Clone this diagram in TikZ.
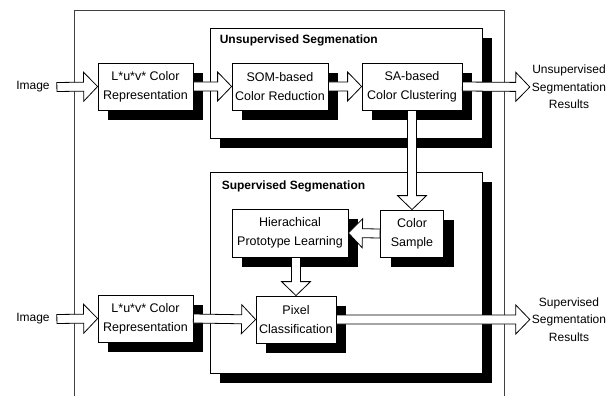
\documentclass[tikz,border=0pt]{standalone}
\usepackage{fontspec}
\setmainfont{Liberation Sans}
\usetikzlibrary{calc,shadows}
\newcommand\blockarrow[2]{%
  \coordinate (ba-h) at ($(#2)!14pt!(#1)$);
  \draw[line width=.8pt,fill=white] ($(#1)!4.5pt!90:(#2)$) -- ($(ba-h)!4.5pt!90:(#2)$)
    -- ($(ba-h)!14.5pt!90:(#2)$) -- (#2) -- ($(ba-h)!14.5pt!-90:(#2)$)
    -- ($(ba-h)!4.5pt!-90:(#2)$) -- ($(#1)!4.5pt!-90:(#2)$) -- cycle;}

\begin{document}
\begin{tikzpicture}[x=1pt,y=-1pt,
  shade/.style={drop shadow={shadow xshift=10pt,shadow yshift=-10pt,fill=black,opacity=1}},
  blk/.style={draw,fill=white,line width=.8pt,shade,inner sep=0pt,minimum height=47pt,
    align=center,font=\fontsize{12.5}{19}\selectfont},
  cont/.style={draw,fill=white,line width=.8pt,shade,inner sep=0pt},
  ttl/.style={font=\fontsize{12}{14}\selectfont\bfseries,inner sep=0pt},
  lbl/.style={align=center,inner sep=2pt,font=\fontsize{12}{17.5}\selectfont}]
\useasboundingbox (0,0) rectangle (616,396);
\draw[line width=.6pt,black!75] (74,396) -- (74,10) -- (504,10) -- (504,396);
\node[cont,minimum width=272pt,minimum height=110pt] (unsup) at (346,83) {};
\node[cont,minimum width=272pt,minimum height=201pt] (sup) at (346,272.5) {};
\node[ttl,anchor=west] at ([xshift=10pt,yshift=-13pt]unsup.north west) {Unsupervised Segmenation};
\node[ttl,anchor=west] at ([xshift=12pt,yshift=-15pt]sup.north west) {Supervised Segmenation};
\node[blk,minimum width=95pt] (luv1) at (145.5,86.5) {L*u*v* Color\\Representation};
\node[blk,minimum width=96pt] (som) at (280,86.5) {SOM-based\\Color Reduction};
\node[blk,minimum width=100pt] (sa) at (412,86.5) {SA-based\\Color Clustering};
\node[blk,minimum width=116pt,minimum height=48pt] (hier) at (290,233) {Hierachical\\Prototype Learning};
\node[blk,minimum width=63pt] (cs) at (412,233.5) {Color\\Sample};
\node[blk,minimum width=80pt] (pix) at (296,319.5) {Pixel\\Classification};
\node[blk,minimum width=95pt] (luv2) at (145.5,318.5) {L*u*v* Color\\Representation};
\node[lbl,inner xsep=7pt] (img1) at (33,87) {Image};
\node[lbl,inner xsep=7pt] (img2) at (33,319) {Image};
\node[lbl] (out1) at (569,87) {Unsupervised\\Segmentation\\Results};
\node[lbl] (out2) at (569,319.5) {Supervised\\Segmentation\\Results};
\coordinate (hb) at (hier.south -| pix.north);
\blockarrow{img1.east}{luv1.west}
\blockarrow{luv1.east}{som.west}
\blockarrow{som.east}{sa.west}
\blockarrow{sa.east}{out1.west}
\blockarrow{sa.south}{cs.north}
\blockarrow{cs.west}{hier.east}
\blockarrow{hb}{pix.north}
\blockarrow{img2.east}{luv2.west}
\blockarrow{luv2.east}{pix.west}
\blockarrow{pix.east}{out2.west}
\end{tikzpicture}
\end{document}
